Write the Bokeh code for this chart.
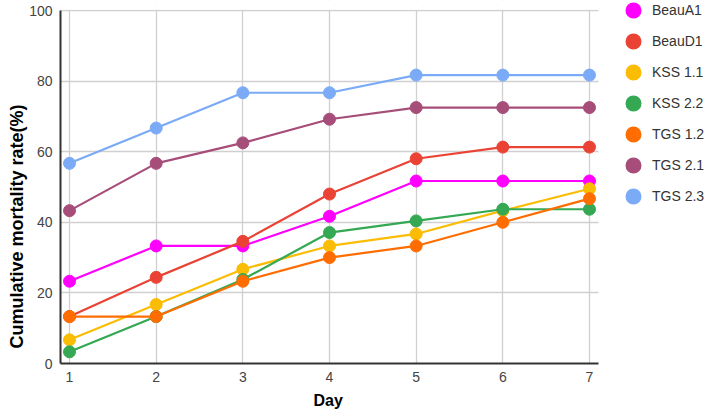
from bokeh.plotting import figure
from bokeh.models import Legend, LegendItem, Title, FixedTicker, Range1d, BoxAnnotation
from bokeh.embed import file_html
from bokeh.resources import INLINE

days = [1, 2, 3, 4, 5, 6, 7]
beau_a1 = [23.3, 33.3, 33.3, 41.7, 51.7, 51.7, 51.7]
beau_d1 = [13.3, 24.4, 34.6, 48.0, 58.0, 61.3, 61.3]
kss_1_1 = [6.7, 16.7, 26.7, 33.3, 36.7, 43.3, 49.5]
kss_2_2 = [3.3, 13.3, 23.8, 37.1, 40.4, 43.7, 43.7]
tgs_1_2 = [13.3, 13.3, 23.3, 30.0, 33.3, 40.0, 46.7]
tgs_2_1 = [43.3, 56.7, 62.5, 69.2, 72.5, 72.5, 72.5]
tgs_2_3 = [56.7, 66.7, 76.7, 76.7, 81.7, 81.7, 81.7]

series_names = ["BeauA1", "BeauD1", "KSS 1.1", "KSS 2.2", "TGS 1.2", "TGS 2.1", "TGS 2.3"]
series_values = [beau_a1, beau_d1, kss_1_1, kss_2_2, tgs_1_2, tgs_2_1, tgs_2_3]
colors = ["#FF00FF", "#EA4335", "#FBBC04", "#34A853", "#FF6D01", "#A64D79", "#7BAAF7"]
y_ticks = [0, 20, 40, 60, 80, 100]

# plot-area geometry (pixels) and axis extents
W, H = 708, 414
frame_left, frame_bottom = 60, 363
axis_right_px, axis_top_px = 598, 10
x_start, x_axis_end = 0.896, 7.104
y_start, y_axis_end = 0, 100
x_per_px = (x_axis_end - x_start) / (axis_right_px - frame_left)
y_per_px = (y_axis_end - y_start) / (frame_bottom - axis_top_px)
x_end = x_start + (W - frame_left) * x_per_px
y_end = y_axis_end + axis_top_px * y_per_px

p = figure(width=W, height=H, output_backend="svg", toolbar_location=None,
           x_range=Range1d(x_start, x_end), y_range=Range1d(y_start, y_end))
p.min_border_left = frame_left
p.min_border_right = 0
p.min_border_top = 0
p.min_border_bottom = H - frame_bottom
p.outline_line_color = None

# grid
p.xgrid.ticker = FixedTicker(ticks=days)
p.ygrid.ticker = FixedTicker(ticks=y_ticks)
for g in (p.xgrid, p.ygrid):
    g.grid_line_color = "#d0d0d0"
    g.grid_line_width = 1.3
# blank out grid outside the axis extents (legend area / top strip)
p.add_layout(BoxAnnotation(left=x_axis_end, fill_color="white", fill_alpha=1,
                           line_alpha=0, level="underlay"))
p.add_layout(BoxAnnotation(bottom=y_axis_end + 0.7 * y_per_px, fill_color="white",
                           fill_alpha=1, line_alpha=0, level="underlay"))

items = []
for name, vals, c in zip(series_names, series_values, colors):
    p.line(days, vals, line_color=c, line_width=2.2)
    p.scatter(days, vals, size=12, fill_color=c, line_color=c)
    # hidden renderer that only supplies the legend swatch style
    sw = p.scatter(days, vals, size=8, fill_color=c, line_color=c, line_width=8,
                   visible=False)
    items.append(LegendItem(label=name, renderers=[sw]))

legend = Legend(items=items, location=(563, 157), glyph_width=20, glyph_height=20,
                spacing=11, padding=0, margin=0, label_standoff=9,
                border_line_color=None, background_fill_alpha=0,
                label_text_font="Liberation Sans", label_text_font_size="14px",
                label_text_color="#333333", label_text_baseline="middle")
p.add_layout(legend, "center")

for ax in (p.xaxis, p.yaxis):
    ax.major_tick_line_color = None
    ax.minor_tick_line_color = None
    ax.major_tick_out = 0
    ax.major_tick_in = 0
    ax.major_label_text_font = "Liberation Sans"
    ax.major_label_text_font_size = "14px"
    ax.major_label_text_color = "#444444"
    ax.axis_line_color = "#333333"
    ax.axis_line_width = 2
    ax.major_label_standoff = 8

p.xaxis.ticker = FixedTicker(ticks=days)
p.yaxis.ticker = FixedTicker(ticks=y_ticks)
p.xaxis.bounds = (x_start, x_axis_end)
p.yaxis.bounds = (y_start, y_axis_end)

p.add_layout(Title(text="Day", align="left", offset=253, standoff=10,
                   text_font="Liberation Sans", text_font_style="bold",
                   text_font_size="16px", text_color="#000000"), "below")
p.add_layout(Title(text="Cumulative mortality rate(%)", align="left", offset=15,
                   standoff=0, text_font="Liberation Sans", text_font_style="bold",
                   text_font_size="18px", text_color="#000000"), "left")

open("out.html", "w").write(file_html(p, INLINE))
